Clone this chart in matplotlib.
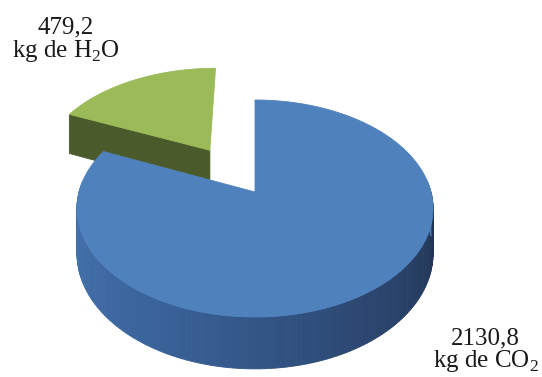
import numpy as np
import matplotlib.pyplot as plt
from matplotlib.patches import Polygon
from matplotlib.colors import to_rgb

# data
values = [479.2, 2130.8]
compounds = ["H$_\\mathrm{2}$O", "CO$_\\mathrm{2}$"]
top_colors = ["#9BBB59", "#4F81BD"]
face_colors = ["#4B5A2B", "#3A6398"]
explode = [0.5, 0.0]

plt.rcParams['mathtext.fontset'] = 'custom'
plt.rcParams['mathtext.rm'] = 'Liberation Serif'

# projection of the pie disc (unit circle) with a bit of perspective
cx, cy = 255, 192
rx, ry = 176, 106
depth = 44
k = 0.152


def proj(x, y, z=0.0):
    s = 1 + k * y
    return cx + rx * x / s, cy - ry * y / s + depth * z / s


def lerp_color(stops, f):
    f = min(max(f, 0), 1) * (len(stops) - 1)
    i = min(int(f), len(stops) - 2)
    t = f - i
    a, b = np.array(to_rgb(stops[i])), np.array(to_rgb(stops[i + 1]))
    return a + (b - a) * t


side_stops = ["#4775AF", "#3A639B", "#2C4872", "#1F3250"]

fig = plt.figure(figsize=(5.42, 3.77), dpi=100)
ax = fig.add_axes([0, 0, 1, 1])
ax.set_xlim(0, 542)
ax.set_ylim(377, 0)
ax.axis('off')

total = sum(values)
start = 90.0
slices = []
for v, ex in zip(values, explode):
    sweep = 360.0 * v / total
    t1, t2 = start, start + sweep
    mid = np.radians((t1 + t2) / 2)
    ox, oy = ex * np.cos(mid), ex * np.sin(mid)
    slices.append((t1, t2, ox, oy))
    start = t2

# green (exploded, at the back) first, then blue
for idx in [0, 1]:
    t1, t2, ox, oy = slices[idx]
    ts = np.radians(np.linspace(t1, t2, 200))
    # curved outer side
    for a, b in zip(ts[:-1], ts[1:]):
        m = (a + b) / 2
        if np.sin(m) > 0.1:
            continue
        f = (np.degrees(m) % 360 - 180) / 180
        col = lerp_color(side_stops, f) if idx == 1 else to_rgb(face_colors[0])
        pts = [proj(ox + np.cos(a), oy + np.sin(a), 0),
               proj(ox + np.cos(b), oy + np.sin(b), 0),
               proj(ox + np.cos(b), oy + np.sin(b), 1),
               proj(ox + np.cos(a), oy + np.sin(a), 1)]
        ax.add_patch(Polygon(pts, closed=True, facecolor=col, edgecolor=col, lw=0.6))
    # radial face at the end angle (visible for the exploded slice)
    if idx == 0:
        e = np.radians(t2)
        pts = [proj(ox, oy, 0), proj(ox + np.cos(e), oy + np.sin(e), 0),
               proj(ox + np.cos(e), oy + np.sin(e), 1), proj(ox, oy, 1)]
        ax.add_patch(Polygon(pts, closed=True, facecolor=face_colors[0],
                             edgecolor=face_colors[0], lw=0.6))
    # top
    pts = [proj(ox, oy, 0)] + [proj(ox + np.cos(t), oy + np.sin(t), 0) for t in ts]
    ax.add_patch(Polygon(pts, closed=True, facecolor=top_colors[idx],
                         edgecolor=top_colors[idx], lw=0.6))

# labels
fmt = [f"{v:.1f}".replace('.', ',') for v in values]
font = dict(family='Liberation Serif', fontsize=18, color='#1a1a1a', ha='center', va='baseline')
ax.text(66, 33, fmt[0], **font)
ax.text(66, 57, "kg de " + compounds[0], **font)
ax.text(485, 344, fmt[1], **font)
ax.text(486, 367, "kg de " + compounds[1], **font)

fig.savefig("out.png", dpi=100)
